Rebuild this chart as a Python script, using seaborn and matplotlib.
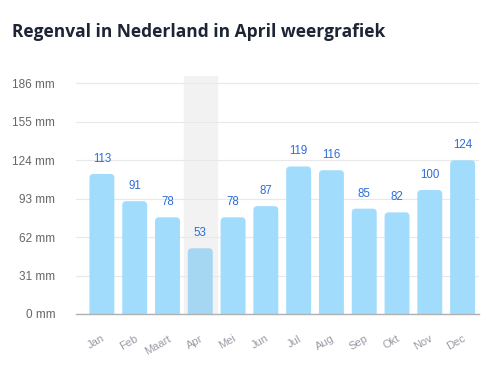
import matplotlib
matplotlib.use("Agg")
import matplotlib.pyplot as plt
import seaborn as sns
import pandas as pd
from matplotlib.patches import FancyBboxPatch

months = ["Jan", "Feb", "Maart", "Apr", "Mei", "Jun", "Jul", "Aug", "Sep", "Okt", "Nov", "Dec"]
rain = [113, 91, 78, 53, 78, 87, 119, 116, 85, 82, 100, 124]
yticks = [0, 31, 62, 93, 124, 155, 186]
highlight = "Apr"
title = "Regenval in Nederland in April weergrafiek"

df = pd.DataFrame({"month": months, "rain": rain})

sns.set_theme(style="white")
plt.rcParams["font.family"] = ["Liberation Sans", "DejaVu Sans"]

fig = plt.figure(figsize=(4.93, 3.72), dpi=100)
ax = fig.add_axes([76 / 493, 1 - 314 / 372, (479 - 76) / 493, (314 - 76) / 372])

bar_color = "#a1dcfd"
hi_color = "#a5d6f2"
palette = {m: (hi_color if m == highlight else bar_color) for m in months}
sns.barplot(data=df, x="month", y="rain", hue="month", palette=palette,
            width=0.76, legend=False, ax=ax, saturation=1)

ymax = 192
ax.set_ylim(0, ymax)
ax.set_xlim(-0.79, 11.5)

# round bar tops
px_per_y = 238 / ymax
px_per_x = 403 / 12.29
r_px = 4
for p in list(ax.patches):
    if p.__class__.__name__ != "Rectangle":
        continue
    x0, w, h = p.get_x(), p.get_width(), p.get_height()
    if h <= 0:
        continue
    fc = p.get_facecolor()
    p.remove()
    rx = r_px / px_per_x
    aspect = px_per_x / px_per_y
    fb = FancyBboxPatch((x0, -10), w, h + 10,
                        boxstyle=f"round,pad=0,rounding_size={rx}",
                        mutation_aspect=aspect, facecolor=fc, edgecolor="none",
                        zorder=2, clip_on=True)
    ax.add_patch(fb)
    ax.text(x0 + w / 2, h + 15 / px_per_y, str(int(round(h))), ha="center", va="center",
            fontsize=8.3, color="#2b6dd6", zorder=3)

# highlight band
hi = months.index(highlight)
ax.axvspan(hi - 0.5, hi + 0.5, color="#f2f2f2", zorder=0.5)

ax.set_yticks(yticks)
ax.set_yticklabels([f"{v} mm" for v in yticks], fontsize=8.5, color="#666666")
ax.yaxis.grid(True, color="#e8e8e8", linewidth=0.8)
ax.set_axisbelow(True)
ax.tick_params(axis="y", length=0, pad=15)
ax.tick_params(axis="x", length=0, pad=14)
ax.set_xticks(range(len(months)))
ax.set_xticklabels(months, rotation=30, ha="right", rotation_mode="anchor",
                   fontsize=8, color="#9a9aa6")
ax.set_xlabel("")
ax.set_ylabel("")
for s in ["top", "right", "left"]:
    ax.spines[s].set_visible(False)
ax.spines["bottom"].set_color("#b0b0b0")
ax.spines["bottom"].set_linewidth(1)

fig.text(12 / 493, 1 - 32 / 372, title, ha="left", va="center", fontsize=12.5,
         fontweight="bold", color="#1d2433", family=["Open Sans", "DejaVu Sans"])

fig.savefig("out.png", dpi=100)
